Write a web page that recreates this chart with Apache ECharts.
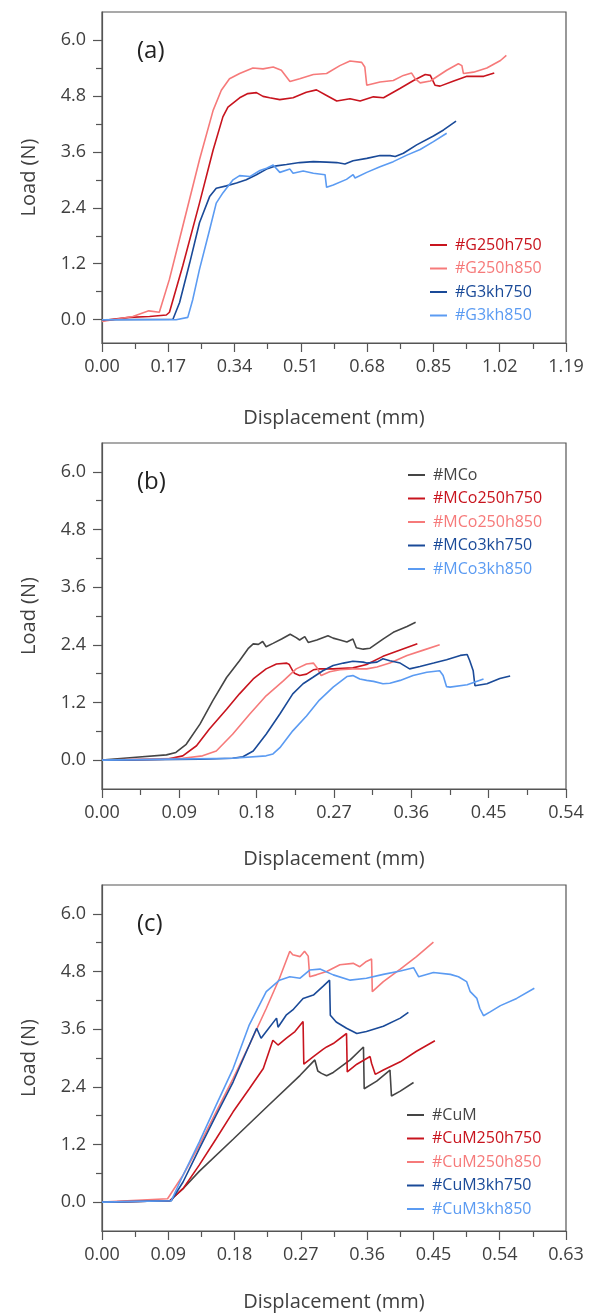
<!DOCTYPE html>
<html>
<head>
<meta charset="utf-8">
<script src="https://cdn.jsdelivr.net/npm/echarts@6/dist/echarts.min.js"></script>
<style>
  html, body { margin: 0; padding: 0; background: #fff; }
  #main { width: 596px; height: 1313px; }
</style>
</head>
<body>
<div id="main"></div>
<script>
// ---- panel (a): graphite samples ----
var G250h750 = [[0,-0.02],[0.07,0.05],[0.122,0.07],[0.165,0.1],[0.173,0.16],[0.207,1.15],[0.25,2.5],[0.285,3.64],[0.31,4.35],[0.323,4.56],[0.353,4.76],[0.374,4.85],[0.396,4.87],[0.413,4.79],[0.43,4.76],[0.456,4.72],[0.49,4.76],[0.524,4.88],[0.55,4.93],[0.576,4.81],[0.602,4.69],[0.636,4.74],[0.662,4.69],[0.696,4.78],[0.722,4.76],[0.764,4.96],[0.799,5.13],[0.829,5.26],[0.842,5.24],[0.854,5.03],[0.867,5.01],[0.902,5.12],[0.936,5.22],[0.979,5.22],[1.006,5.29]];
var G250h850 = [[0,-0.04],[0.079,0.07],[0.12,0.19],[0.147,0.16],[0.173,0.87],[0.207,2.0],[0.25,3.43],[0.285,4.49],[0.306,4.92],[0.327,5.17],[0.353,5.28],[0.387,5.4],[0.413,5.38],[0.439,5.42],[0.46,5.35],[0.482,5.11],[0.507,5.17],[0.542,5.26],[0.576,5.28],[0.61,5.45],[0.636,5.55],[0.666,5.52],[0.674,5.42],[0.679,5.03],[0.713,5.1],[0.747,5.13],[0.773,5.24],[0.794,5.29],[0.803,5.17],[0.816,5.08],[0.842,5.12],[0.884,5.35],[0.914,5.49],[0.923,5.45],[0.927,5.28],[0.953,5.31],[0.987,5.4],[1.022,5.56],[1.037,5.67]];
var G3kh750 = [[0,0],[0.182,0.01],[0.199,0.37],[0.225,1.22],[0.25,2.08],[0.276,2.64],[0.293,2.82],[0.319,2.87],[0.345,2.93],[0.37,3.0],[0.396,3.11],[0.422,3.23],[0.447,3.3],[0.473,3.33],[0.507,3.37],[0.542,3.39],[0.576,3.38],[0.602,3.37],[0.623,3.34],[0.644,3.41],[0.679,3.46],[0.713,3.52],[0.739,3.52],[0.752,3.5],[0.773,3.57],[0.807,3.75],[0.85,3.94],[0.876,4.07],[0.908,4.26]];
var G3kh850 = [[0,0],[0.19,0.0],[0.22,0.05],[0.233,0.44],[0.25,1.08],[0.276,1.93],[0.293,2.5],[0.31,2.72],[0.336,3.0],[0.353,3.09],[0.379,3.07],[0.405,3.2],[0.422,3.25],[0.439,3.32],[0.456,3.16],[0.482,3.23],[0.49,3.14],[0.516,3.19],[0.542,3.14],[0.572,3.11],[0.576,2.84],[0.593,2.89],[0.627,3.01],[0.644,3.11],[0.649,3.04],[0.679,3.16],[0.713,3.28],[0.747,3.39],[0.782,3.53],[0.816,3.65],[0.85,3.82],[0.884,4.0]];

// ---- panel (b): MCo samples ----
var MCo = [[0,0],[0.036,0.056],[0.075,0.11],[0.086,0.16],[0.098,0.33],[0.114,0.75],[0.129,1.24],[0.145,1.72],[0.16,2.07],[0.17,2.32],[0.176,2.42],[0.182,2.41],[0.187,2.47],[0.191,2.36],[0.199,2.43],[0.209,2.52],[0.219,2.62],[0.226,2.55],[0.23,2.5],[0.236,2.57],[0.24,2.45],[0.25,2.5],[0.263,2.59],[0.269,2.54],[0.277,2.5],[0.285,2.46],[0.292,2.52],[0.296,2.34],[0.304,2.31],[0.312,2.33],[0.327,2.52],[0.339,2.66],[0.355,2.78],[0.365,2.87]];
var MCo250h750 = [[0,0],[0.075,0.02],[0.094,0.09],[0.11,0.3],[0.125,0.65],[0.145,1.06],[0.16,1.38],[0.176,1.69],[0.191,1.9],[0.203,2.0],[0.215,2.02],[0.218,1.99],[0.222,1.86],[0.224,1.81],[0.23,1.76],[0.238,1.79],[0.246,1.88],[0.253,1.9],[0.269,1.9],[0.292,1.92],[0.308,1.99],[0.327,2.16],[0.347,2.29],[0.367,2.42]];
var MCo250h850 = [[0,0],[0.094,0.04],[0.117,0.09],[0.133,0.19],[0.152,0.54],[0.172,0.96],[0.191,1.34],[0.211,1.65],[0.226,1.9],[0.238,2.0],[0.246,2.02],[0.25,1.93],[0.255,1.76],[0.265,1.84],[0.277,1.88],[0.292,1.9],[0.308,1.9],[0.32,1.94],[0.335,2.02],[0.355,2.18],[0.374,2.29],[0.393,2.4]];
var MCo3kh750 = [[0,0],[0.114,0.02],[0.152,0.04],[0.164,0.07],[0.176,0.19],[0.191,0.54],[0.207,0.96],[0.222,1.38],[0.234,1.59],[0.246,1.73],[0.257,1.86],[0.269,1.97],[0.281,2.02],[0.292,2.06],[0.304,2.04],[0.308,2.02],[0.32,2.04],[0.327,2.11],[0.335,2.07],[0.347,2.02],[0.358,1.9],[0.37,1.95],[0.386,2.02],[0.401,2.09],[0.417,2.18],[0.425,2.2],[0.428,2.07],[0.432,1.86],[0.434,1.55],[0.436,1.55],[0.448,1.59],[0.463,1.7],[0.475,1.75]];
var MCo3kh850 = [[0,0],[0.152,0.04],[0.191,0.09],[0.199,0.13],[0.207,0.26],[0.222,0.61],[0.238,0.92],[0.253,1.25],[0.269,1.52],[0.285,1.74],[0.292,1.76],[0.3,1.69],[0.308,1.66],[0.316,1.64],[0.327,1.59],[0.335,1.6],[0.347,1.66],[0.362,1.76],[0.378,1.83],[0.393,1.86],[0.397,1.76],[0.401,1.53],[0.405,1.52],[0.425,1.57],[0.444,1.69]];

// ---- panel (c): CuM samples ----
var CuM = [[0,0],[0.092,0.03],[0.11,0.28],[0.132,0.64],[0.178,1.31],[0.223,1.97],[0.269,2.64],[0.289,2.96],[0.293,2.73],[0.298,2.68],[0.305,2.63],[0.314,2.7],[0.337,2.96],[0.355,3.23],[0.356,2.36],[0.373,2.52],[0.391,2.75],[0.393,2.21],[0.405,2.31],[0.423,2.49]];
var CuM250h750 = [[0,0],[0.092,0.03],[0.11,0.28],[0.132,0.77],[0.155,1.32],[0.178,1.88],[0.2,2.36],[0.219,2.78],[0.232,3.37],[0.239,3.27],[0.25,3.41],[0.262,3.55],[0.273,3.76],[0.274,2.87],[0.287,3.03],[0.3,3.18],[0.305,3.23],[0.314,3.3],[0.332,3.51],[0.333,2.71],[0.346,2.87],[0.364,3.03],[0.366,2.89],[0.371,2.66],[0.382,2.75],[0.405,2.92],[0.427,3.14],[0.452,3.36]];
var CuM250h850 = [[0,0],[0.089,0.07],[0.11,0.56],[0.132,1.18],[0.155,1.88],[0.178,2.57],[0.2,3.27],[0.223,4.03],[0.241,4.66],[0.255,5.22],[0.259,5.15],[0.269,5.11],[0.275,5.22],[0.28,5.12],[0.282,4.69],[0.291,4.73],[0.305,4.8],[0.323,4.94],[0.341,4.97],[0.35,4.9],[0.359,5.01],[0.366,5.06],[0.367,4.38],[0.382,4.59],[0.405,4.85],[0.427,5.11],[0.45,5.41]];
var CuM3kh750 = [[0,0],[0.094,0.03],[0.11,0.42],[0.132,1.11],[0.155,1.81],[0.178,2.5],[0.196,3.13],[0.21,3.62],[0.216,3.41],[0.223,3.55],[0.237,3.83],[0.239,3.64],[0.25,3.89],[0.259,4.0],[0.273,4.24],[0.287,4.31],[0.3,4.49],[0.309,4.62],[0.31,3.89],[0.318,3.75],[0.332,3.62],[0.346,3.51],[0.359,3.55],[0.382,3.66],[0.405,3.83],[0.416,3.95]];
var CuM3kh850 = [[0,0],[0.094,0.03],[0.11,0.56],[0.132,1.25],[0.155,2.02],[0.178,2.78],[0.2,3.69],[0.223,4.38],[0.241,4.62],[0.255,4.69],[0.269,4.66],[0.282,4.83],[0.296,4.85],[0.314,4.73],[0.337,4.62],[0.359,4.66],[0.382,4.74],[0.405,4.81],[0.423,4.88],[0.43,4.69],[0.45,4.78],[0.473,4.74],[0.484,4.69],[0.495,4.59],[0.5,4.38],[0.509,4.24],[0.513,4.03],[0.518,3.88],[0.527,3.96],[0.541,4.09],[0.563,4.24],[0.587,4.45]];

var yMajor = [0, 1.2, 2.4, 3.6, 4.8, 6.0];
var yMinor = [0.6, 1.8, 3.0, 4.2, 5.4];

var panelNames = ['(a)', '(b)', '(c)'];
var xMax = [1.19, 0.54, 0.63];
var xStep = [0.17, 0.09, 0.09];
var yMin = [-0.5, -0.6, -0.6];

var C = {
  gray: '#454545',
  red: '#c8141e',
  pink: '#f67a7a',
  navy: '#1a4a98',
  sky: '#5b9bf2'
};

var panels = [
  { top: 12, height: 331, legTop: 231, legLeft: 425, nameGap: 65,
    series: [['#G250h750', G250h750, C.red], ['#G250h850', G250h850, C.pink], ['#G3kh750', G3kh750, C.navy], ['#G3kh850', G3kh850, C.sky]] },
  { top: 443, height: 346, legTop: 461, legLeft: 403, nameGap: 60,
    series: [['#MCo', MCo, C.gray], ['#MCo250h750', MCo250h750, C.red], ['#MCo250h850', MCo250h850, C.pink], ['#MCo3kh750', MCo3kh750, C.navy], ['#MCo3kh850', MCo3kh850, C.sky]] },
  { top: 885, height: 347, legTop: 1101, legLeft: 402, nameGap: 61,
    series: [['#CuM', CuM, C.gray], ['#CuM250h750', CuM250h750, C.red], ['#CuM250h850', CuM250h850, C.pink], ['#CuM3kh750', CuM3kh750, C.navy], ['#CuM3kh850', CuM3kh850, C.sky]] }
];

var FONT = 'Open Sans';
var AX = '#555555';
var TXT = '#404040';

var option = {
  animation: false,
  backgroundColor: '#fff',
  textStyle: { fontFamily: FONT },
  title: [], grid: [], xAxis: [], yAxis: [], legend: [], series: []
};

panels.forEach(function (p, i) {
  option.grid.push({ left: 102, right: 30, top: p.top, height: p.height,
    show: true, borderColor: AX, borderWidth: 1.2 });
  option.title.push({ text: panelNames[i], left: 132, top: p.top + 22,
    textStyle: { fontFamily: FONT, fontSize: 24, fontWeight: 'normal', color: '#222' } });
  option.xAxis.push({
    type: 'value', gridIndex: i, min: 0, max: xMax[i], interval: xStep[i],
    name: 'Displacement (mm)', nameLocation: 'middle', nameGap: p.nameGap,
    nameTextStyle: { fontSize: 20, color: TXT, fontFamily: FONT },
    axisLine: { onZero: false, lineStyle: { color: AX, width: 1.2 } },
    axisTick: { inside: false, length: 9, lineStyle: { color: AX, width: 1.2 } },
    minorTick: { show: true, splitNumber: 2, length: 6, lineStyle: { color: AX, width: 1.2 } },
    axisLabel: { fontSize: 18, color: TXT, margin: 15, fontFamily: FONT,
      formatter: function (v) { return v.toFixed(2); } },
    splitLine: { show: false }
  });
  option.yAxis.push({
    type: 'value', gridIndex: i, min: yMin[i], max: 6.6,
    name: 'Load (N)', nameLocation: 'middle', nameGap: 63,
    nameTextStyle: { fontSize: 20, color: TXT, fontFamily: FONT },
    axisLine: { onZero: false, lineStyle: { color: AX, width: 1.2 } },
    axisTick: { inside: false, length: 9, customValues: yMajor, lineStyle: { color: AX, width: 1.2 } },
    axisLabel: { fontSize: 18, color: TXT, margin: 16, fontFamily: FONT, customValues: yMajor,
      formatter: function (v) { return v.toFixed(1); } },
    splitLine: { show: false }
  });
  // second y axis only for the short minor ticks
  option.yAxis.push({
    type: 'value', gridIndex: i, min: yMin[i], max: 6.6, position: 'left',
    axisLine: { show: false, onZero: false },
    axisTick: { show: true, inside: false, length: 6, customValues: yMinor, lineStyle: { color: AX, width: 1.2 } },
    axisLabel: { show: false },
    splitLine: { show: false }
  });
  var legData = [];
  p.series.forEach(function (s) {
    legData.push({ name: s[0], textStyle: { color: s[2] } });
    option.series.push({
      name: s[0], type: 'line', xAxisIndex: i, yAxisIndex: i * 2,
      data: s[1], showSymbol: false, smooth: false,
      lineStyle: { color: s[2], width: 1.6 }, itemStyle: { color: s[2] }
    });
  });
  option.legend.push({
    orient: 'vertical', left: p.legLeft, top: p.legTop,
    data: legData, icon: 'rect', itemWidth: 17, itemHeight: 2, itemGap: 5.5,
    textStyle: { fontSize: 16, fontFamily: FONT, lineHeight: 18, padding: [0, 0, 0, 3] },
    selectedMode: false
  });
});

var chart = echarts.init(document.getElementById('main'));
chart.setOption(option);
</script>
</body>
</html>
